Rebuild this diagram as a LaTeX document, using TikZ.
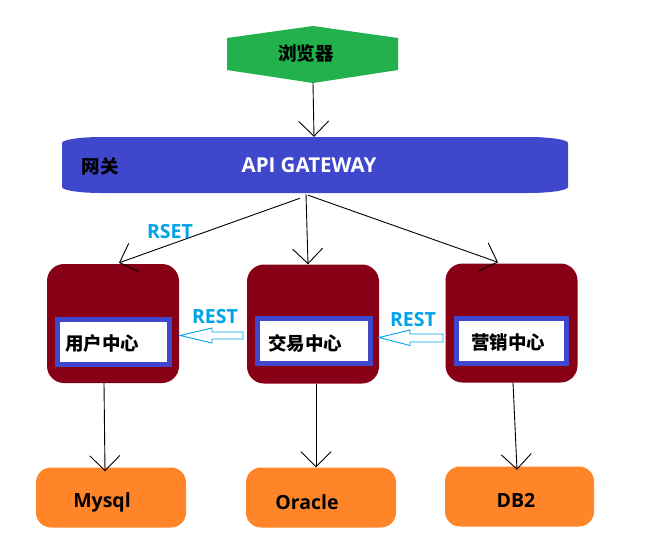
\documentclass[tikz,border=0pt]{standalone}
\usepackage{fontspec}
\setmainfont{Open Sans}
\newfontfamily\cjk{Noto Sans CJK SC}
\usetikzlibrary{arrows.meta,calc}
\definecolor{pgreen}{HTML}{22B14C}
\definecolor{pblue}{HTML}{3F48CC}
\definecolor{pmaroon}{HTML}{880015}
\definecolor{porange}{HTML}{FF8528}
\definecolor{pcyan}{HTML}{00A2E8}
\tikzset{
  conn/.style={draw=black, line width=0.9pt, -{Straight Barb[length=15pt,width=30pt,line width=0.9pt]}},
  cjktext/.style={font=\cjk\bfseries\fontsize{18.5}{20}\selectfont, text=black, inner sep=0pt},
  lattext/.style={font=\bfseries\fontsize{19.5}{22}\selectfont, inner sep=0pt},
  svcbox/.style={fill=pmaroon, rounded corners=17pt, minimum width=132pt, minimum height=119pt, inner sep=0pt},
  innerbox/.style={draw=pblue, line width=5pt, fill=white, minimum width=112pt, minimum height=45pt, inner sep=0pt},
  dbbox/.style={fill=porange, rounded corners=15pt, minimum width=150pt, minimum height=60pt, inner sep=0pt},
  restlabel/.style={lattext, text=pcyan},
  blockarrow/.style={draw=pcyan, line width=0.9pt, fill=white},
}
\begin{document}
\begin{tikzpicture}[x=1pt,y=-1pt]
\useasboundingbox (0,0) rectangle (662,547);
% browser hexagon
\fill[pgreen] (227,38) -- (313,26) -- (398,38) -- (398,70) -- (313,83) -- (227,70) -- cycle;
\node[cjktext] (browser) at (306,53) {浏览器};
\coordinate (browserbot) at (313,83);
% gateway
\fill[pblue] (102,137) -- (528,137) arc[start angle=90, end angle=0, x radius=40, y radius=-6]
  -- (568,187) arc[start angle=0, end angle=-90, x radius=40, y radius=-6]
  -- (102,193) arc[start angle=270, end angle=180, x radius=40, y radius=-6]
  -- (62,143) arc[start angle=180, end angle=90, x radius=40, y radius=-6] -- cycle;
\node[minimum width=506pt, minimum height=56pt, inner sep=0pt] (gw) at (315,165) {};
\node[cjktext] (gwcn) at (100,166) {网关};
\node[lattext, text=white, font=\bfseries\fontsize{20.5}{23}\selectfont] (gwen) at (309,165) {API GATEWAY};
% service boxes
\node[svcbox] (b1) at (113,323.5) {};
\node[svcbox] (b2) at (313,324) {};
\node[svcbox] (b3) at (511.5,323) {};
\node[innerbox] (i1) at (113.5,342) {};
\node[innerbox, minimum width=113pt] (i2) at (314,340.5) {};
\node[innerbox, minimum width=110pt] (i3) at (511.5,340.5) {};
\node[cjktext, anchor=west] (t1) at (65,343) {用户中心};
\node[cjktext, anchor=west] (t2) at (268,343) {交易中心};
\node[cjktext, anchor=west] (t3) at (471,342) {营销中心};
% databases
\node[dbbox] (d1) at (111,497.5) {};
\node[dbbox] (d2) at (321,497.5) {};
\node[dbbox, minimum width=149pt] (d3) at (519.5,496.5) {};
\node[lattext] (dt1) at (102,502) {Mysql};
\node[lattext] (dt2) at (307,502) {Oracle};
\node[lattext] (dt3) at (516,500) {DB2};
% labels
\node[restlabel] (rset) at (170,232) {RSET};
\node[restlabel] (rest1) at (215,317) {REST};
\node[restlabel] (rest2) at (413,320) {REST};
% block arrows
\draw[blockarrow] (243,339) -- (212,339) -- (212,343) -- (180,335.5) -- (212,328) -- (212,332) -- (243,332) -- cycle;
\draw[blockarrow] (443,342) -- (410,342) -- (410,345.5) -- (379,337.5) -- (410,330) -- (410,334) -- (443,334) -- cycle;
% connectors
\draw[conn] (browserbot) -- ($(gw.north)+(-1,0)$);
\draw[conn] ($(gw.south)+(-15,5)$) -- ($(b1.north)+(6,-1)$);
\draw[conn] ($(gw.south)+(-9,1)$) -- ($(b2.north)+(-5,0)$);
\draw[conn] ($(gw.south)+(-7,2)$) -- ($(b3.north)+(-13.5,-1)$);
\draw[conn] ($(b1.south)+(-9,0)$) -- ($(d1.north)+(-6,4)$);
\draw[conn] ($(b2.south)+(3,0)$) -- ($(d2.north)+(-5,0)$);
\draw[conn] ($(b3.south)+(1.5,0)$) -- ($(d3.north)+(-2.5,3.5)$);
\end{tikzpicture}
\end{document}
